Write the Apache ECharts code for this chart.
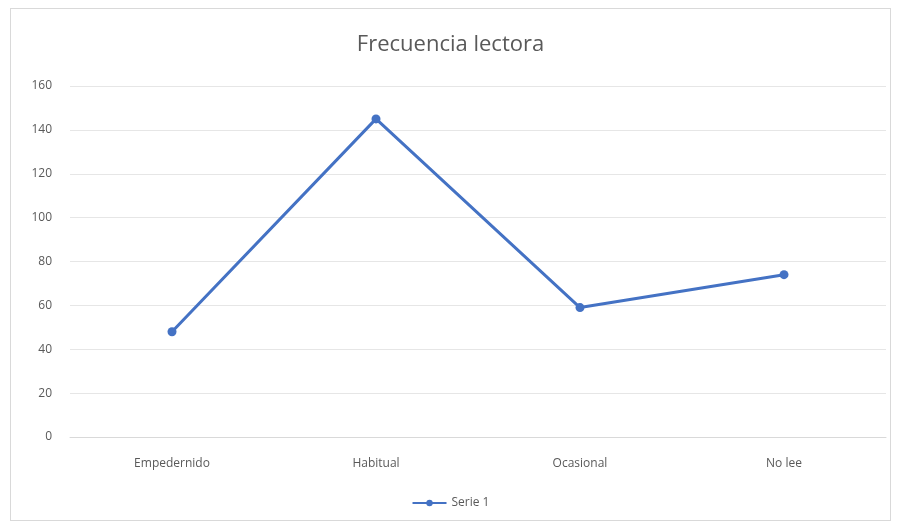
<!DOCTYPE html>
<html><head><meta charset="utf-8">
<script src="https://cdn.jsdelivr.net/npm/echarts@6/dist/echarts.min.js"></script>
<style>html,body{margin:0;padding:0;background:#fff}#c{width:901px;height:528px}
#frame{position:absolute;left:10px;top:8px;width:881px;height:513px;border:1px solid #d9d9d9;box-sizing:border-box;pointer-events:none}</style>
</head><body><div id="c"></div><div id="frame"></div>
<script>
const categories = ['Empedernido', 'Habitual', 'Ocasional', 'No lee'];
const serie1 = [48, 145, 59, 74];
const seriesName = 'Serie 1';
const titleText = 'Frecuencia lectora';
const chart = echarts.init(document.getElementById('c'));
chart.setOption({
  animation: false,
  backgroundColor: '#fff',
  title: { text: titleText, left: 'center', top: 29, textStyle: { fontFamily: 'Open Sans', fontSize: 22, fontWeight: 'normal', color: '#595959' } },
  legend: { bottom: 14, left: 'center', itemWidth: 34, itemHeight: 8, itemGap: 4,
    textStyle: { fontFamily: 'Open Sans', fontSize: 12, color: '#595959' }, data: [seriesName] },
  grid: { left: 70, right: 15, top: 86, bottom: 91 },
  xAxis: { type: 'category', data: categories, boundaryGap: true,
    axisLine: { lineStyle: { color: '#d9d9d9' } }, axisTick: { show: false },
    axisLabel: { fontFamily: 'Open Sans', fontSize: 12, color: '#595959', margin: 21 } },
  yAxis: { type: 'value', min: 0, max: 160, interval: 20,
    axisLine: { show: false }, axisTick: { show: false },
    splitLine: { lineStyle: { color: '#e6e6e6' } },
    axisLabel: { fontFamily: 'Open Sans', fontSize: 12, color: '#595959', margin: 18 } },
  series: [{ name: seriesName, type: 'line', data: serie1, symbol: 'circle', symbolSize: 9,
    lineStyle: { color: '#4472c4', width: 3 }, itemStyle: { color: '#4472c4' } }]
});
</script></body></html>
